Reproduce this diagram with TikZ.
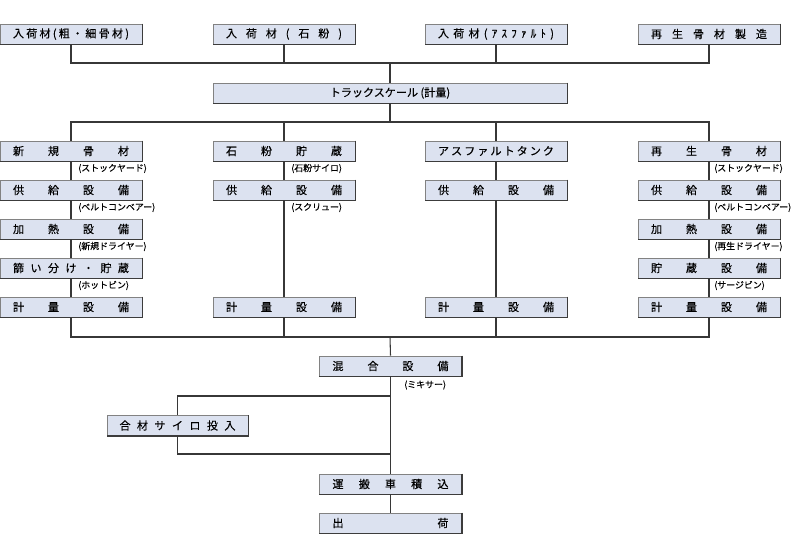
\documentclass[tikz,border=0pt]{standalone}
\usepackage{fontspec}
\setmainfont[FakeBold=0.35]{Noto Sans CJK JP}
\definecolor{boxfill}{RGB}{220,226,240}
\definecolor{boxedge}{RGB}{130,130,130}
\definecolor{shadowc}{RGB}{60,60,60}
\definecolor{linec}{RGB}{55,55,55}
\newcommand\boxfont{\fontsize{8.3}{10}\selectfont}
\newcommand\lblfont{\fontsize{6.7}{8}\selectfont}
\newcommand\spreadtxt[1]{\makebox[87pt][s]{#1}}
\tikzset{
  bx/.style={rectangle, fill=boxfill, draw=boxedge, line width=0.6pt,
    minimum width=106.5pt, minimum height=15pt, inner sep=0pt, font=\boxfont},
  lbl/.style={anchor=west, inner sep=0pt, font=\lblfont},
  ln/.style={draw=linec, line width=0.8pt},
  shd/.style={draw=shadowc, line width=1.3pt}
}
\begin{document}
\begin{tikzpicture}[x=0.75pt,y=-0.75pt]
\useasboundingbox (0,0) rectangle (800,550);
% top row
\node[bx] (t1) at (71,34) {\spreadtxt{入\hfill 荷\hfill 材\hfill (\hfill 粗\hfill ・\hfill 細\hfill 骨\hfill 材\hfill )}};
\node[bx] (t2) at (284,34) {\spreadtxt{入\hfill 荷\hfill 材\hfill (\hfill 石\hfill 粉\hfill )}};
\node[bx] (t3) at (496,34) {\spreadtxt{入\hfill 荷\hfill 材\hfill (\hfill ｱ\hfill ｽ\hfill ﾌ\hfill ｧ\hfill ﾙ\hfill ﾄ\hfill )}};
\node[bx] (t4) at (709,34) {\spreadtxt{再\hfill 生\hfill 骨\hfill 材\hfill 製\hfill 造}};
% scale
\node[bx, minimum width=265.5pt] (scale) at (390,93) {トラックスケール (計量)};
% column 1
\node[bx] (a1) at (71,151) {\spreadtxt{新\hfill 規\hfill 骨\hfill 材}};
\node[bx] (a2) at (71,190) {\spreadtxt{供\hfill 給\hfill 設\hfill 備}};
\node[bx] (a3) at (71,229) {\spreadtxt{加\hfill 熱\hfill 設\hfill 備}};
\node[bx] (a4) at (71,268) {\spreadtxt{篩\hfill い\hfill 分\hfill け\hfill ・\hfill 貯\hfill 蔵}};
\node[bx] (a5) at (71,307) {\spreadtxt{計\hfill 量\hfill 設\hfill 備}};
\node[lbl] (la1) at (78,168.5) {(ストックヤード)};
\node[lbl] (la2) at (78,207.5) {(ベルトコンベアー)};
\node[lbl] (la3) at (78,246.5) {(新規ドライヤー)};
\node[lbl] (la4) at (78,285.5) {(ホットビン)};
% column 2
\node[bx] (b1) at (284,151) {\spreadtxt{石\hfill 粉\hfill 貯\hfill 蔵}};
\node[bx] (b2) at (284,190) {\spreadtxt{供\hfill 給\hfill 設\hfill 備}};
\node[bx] (b5) at (284,307) {\spreadtxt{計\hfill 量\hfill 設\hfill 備}};
\node[lbl] (lb1) at (291,168.5) {(石粉サイロ)};
\node[lbl] (lb2) at (291,207.5) {(スクリュー)};
% column 3
\node[bx] (c1) at (496,151) {\spreadtxt{ア\hfill ス\hfill フ\hfill ァ\hfill ル\hfill ト\hfill タ\hfill ン\hfill ク}};
\node[bx] (c2) at (496,190) {\spreadtxt{供\hfill 給\hfill 設\hfill 備}};
\node[bx] (c5) at (496,307) {\spreadtxt{計\hfill 量\hfill 設\hfill 備}};
% column 4
\node[bx] (d1) at (709,151) {\spreadtxt{再\hfill 生\hfill 骨\hfill 材}};
\node[bx] (d2) at (709,190) {\spreadtxt{供\hfill 給\hfill 設\hfill 備}};
\node[bx] (d3) at (709,229) {\spreadtxt{加\hfill 熱\hfill 設\hfill 備}};
\node[bx] (d4) at (709,268) {\spreadtxt{貯\hfill 蔵\hfill 設\hfill 備}};
\node[bx] (d5) at (709,307) {\spreadtxt{計\hfill 量\hfill 設\hfill 備}};
\node[lbl] (ld1) at (714,168.5) {(ストックヤード)};
\node[lbl] (ld2) at (714,207.5) {(ベルトコンベアー)};
\node[lbl] (ld3) at (714,246.5) {(再生ドライヤー)};
\node[lbl] (ld4) at (714,285.5) {(サージビン)};
% bottom
\node[bx] (mix) at (390.5,366) {\spreadtxt{混\hfill 合\hfill 設\hfill 備}};
\node[lbl] (lmix) at (404,385) {(ミキサー)};
\node[bx, minimum width=105.75pt] (silo) at (177.5,425.5) {\spreadtxt{合\hfill 材\hfill サ\hfill イ\hfill ロ\hfill 投\hfill 入}};
\node[bx] (load) at (390.5,484) {\spreadtxt{運\hfill 搬\hfill 車\hfill 積\hfill 込}};
\node[bx] (ship) at (390.5,523) {\spreadtxt{出\hfill 荷}};
% shadows
\foreach \n in {t1,t2,t3,t4,scale,a1,a2,a3,a4,a5,b1,b2,b5,c1,c2,c5,d1,d2,d3,d4,d5,mix,silo,load,ship}
  \draw[shd] (\n.north east) -- (\n.south east) -- (\n.south west);
% buses
\coordinate (bus1) at (390,63);
\coordinate (bus2) at (390,122);
\coordinate (bus3) at (390,337);
\coordinate (loopA) at (390,396);
\coordinate (loopB) at (390,454);
% connectors
\draw[ln] (t1.south) |- (bus1) -| (t4.south);
\draw[ln] (t2.south) -- (t2.south |- bus1);
\draw[ln] (t3.south) -- (t3.south |- bus1);
\draw[ln] (bus1) -- (scale.north);
\draw[ln] (scale.south) -- (bus2);
\draw[ln] (a1.north) |- (bus2) -| (d1.north);
\draw[ln] (b1.north) -- (b1.north |- bus2);
\draw[ln] (c1.north) -- (c1.north |- bus2);
\draw[ln] (a1) -- (a2); \draw[ln] (a2) -- (a3); \draw[ln] (a3) -- (a4); \draw[ln] (a4) -- (a5);
\draw[ln] (b1) -- (b2); \draw[ln] (b2) -- (b5);
\draw[ln] (c1) -- (c2); \draw[ln] (c2) -- (c5);
\draw[ln] (d1) -- (d2); \draw[ln] (d2) -- (d3); \draw[ln] (d3) -- (d4); \draw[ln] (d4) -- (d5);
\draw[ln] (a5.south) |- (bus3) -| (d5.south);
\draw[ln] (b5.south) -- (b5.south |- bus3);
\draw[ln] (c5.south) -- (c5.south |- bus3);
\draw[ln] (bus3) -- (mix.north);
\draw[ln] (mix.south) -- (load.north);
\draw[ln] (loopA) -| (silo.north);
\draw[ln] (loopB) -| (silo.south);
\draw[ln] (load.south) -- (ship.north);
\end{tikzpicture}
\end{document}
